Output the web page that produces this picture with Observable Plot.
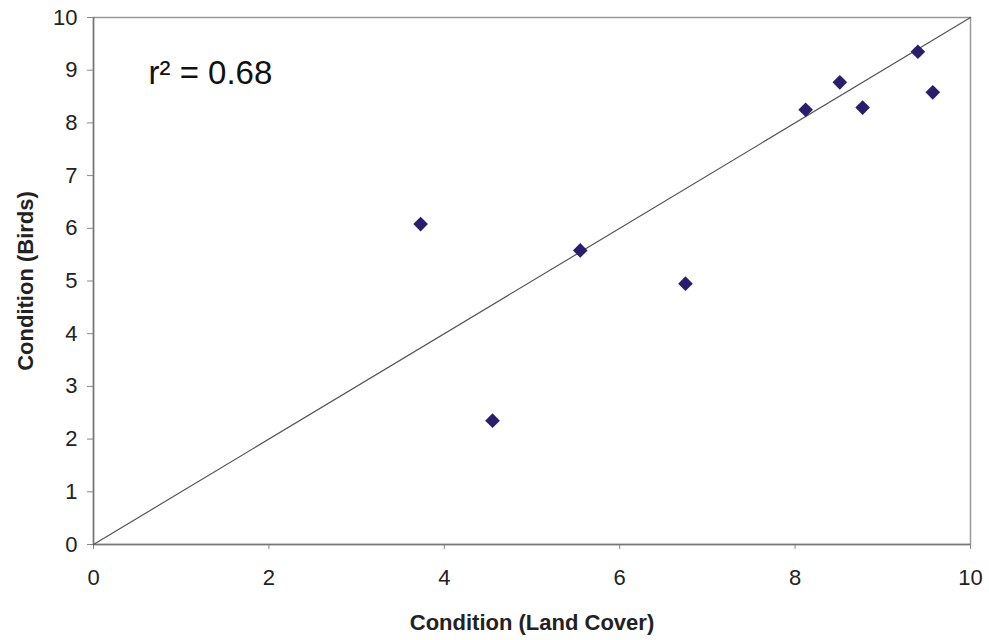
<!DOCTYPE html>
<html>
<head>
<meta charset="utf-8">
<script src="https://cdn.jsdelivr.net/npm/d3@7"></script>
<script src="https://cdn.jsdelivr.net/npm/@observablehq/plot@0.6"></script>
<style>
  html, body { margin: 0; padding: 0; background: #fff; }
  #chart { width: 989px; height: 640px; }
  svg { font-family: "Liberation Sans", Arial, sans-serif; }
</style>
</head>
<body>
<div id="chart"></div>
<script>
// Condition scores
const landCover = [3.73, 4.55, 5.55, 6.75, 8.12, 8.51, 8.77, 9.40, 9.57];
const birds     = [6.08, 2.35, 5.58, 4.95, 8.25, 8.77, 8.29, 9.35, 8.58];
const lineX = [0, 10];
const lineY = [0, 10];
const xTicks = [0, 2, 4, 6, 8, 10];
const yTicks = [0, 1, 2, 3, 4, 5, 6, 7, 8, 9, 10];
const xTitle = "Condition (Land Cover)";
const yTitle = "Condition (Birds)";
const rSquared = "0.68";

const points = landCover.map((x, i) => ({x, y: birds[i]}));
const line = lineX.map((x, i) => ({x, y: lineY[i]}));

const chart = Plot.plot({
  width: 989,
  height: 640,
  marginLeft: 93,
  marginRight: 19,
  marginTop: 17,
  marginBottom: 96,
  style: {fontFamily: "'Liberation Sans', Arial, sans-serif", fontSize: "22px", color: "#222", background: "#fff"},
  x: {domain: [0, 10], ticks: xTicks},
  y: {domain: [0, 10], ticks: yTicks},
  marks: [
    Plot.frame({stroke: "#9a9a9a", strokeWidth: 1.5}),
    Plot.axisX({ticks: xTicks, tickSize: 5, tickPadding: 20, stroke: "#888", fill: "#222", fontSize: 22, label: null}),
    Plot.axisY({ticks: yTicks, tickSize: 6, tickPadding: 10, stroke: "#888", fill: "#222", fontSize: 22, label: null}),
    Plot.ruleX([0], {stroke: "#777", strokeWidth: 1.5}),
    Plot.ruleY([0], {stroke: "#777", strokeWidth: 1.5}),
    Plot.line(line, {x: "x", y: "y", stroke: "#555", strokeWidth: 1.2}),
    Plot.dot(points, {x: "x", y: "y", symbol: "diamond2", r: 6.6, fill: "#2b1d6e", stroke: "none"}),
    Plot.text([xTitle], {frameAnchor: "bottom", dy: 85, text: d => d, fontWeight: "bold", fontSize: 22, fill: "#222", letterSpacing: "0.3px"}),
    Plot.text([yTitle], {frameAnchor: "left", textAnchor: "middle", dx: -68, rotate: -90, text: d => d, fontWeight: "bold", fontSize: 22, fill: "#222", letterSpacing: "1.8px"}),
    Plot.text([`r\u00B2 = ${rSquared}`], {frameAnchor: "top-left", dx: 55, dy: 43, text: d => d, fontSize: 33, fill: "#111", textAnchor: "start"})
  ]
});
document.getElementById("chart").appendChild(chart);
</script>
</body>
</html>
